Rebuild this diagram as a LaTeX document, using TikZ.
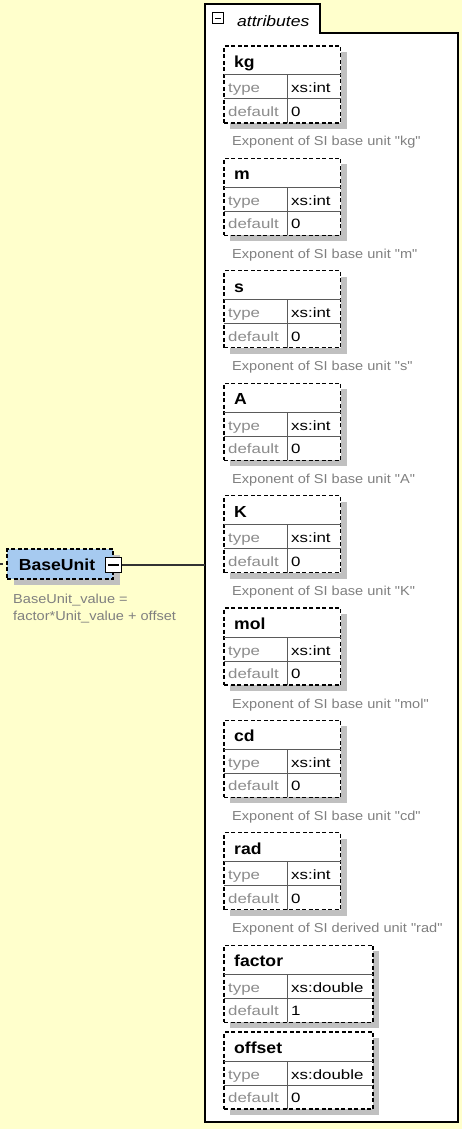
\documentclass[tikz,border=0pt]{standalone}
\usepackage{fontspec}
\setmainfont{Liberation Sans}
\newfontfamily\descfont{Liberation Sans}[FakeStretch=1.12]
\newfontfamily\cellfont{Liberation Sans}[FakeStretch=1.25]
\newfontfamily\headfont{Liberation Sans}[FakeStretch=1.1]
\newfontfamily\tabfont{Liberation Sans}[FakeStretch=1.17]
\usetikzlibrary{calc,shadows}
\definecolor{bgyellow}{RGB}{255,255,204}
\definecolor{shadowgrey}{RGB}{192,192,192}
\definecolor{unitblue}{RGB}{166,202,240}
\definecolor{keygrey}{RGB}{140,140,140}
\definecolor{descgrey}{RGB}{128,128,128}
\definecolor{sepgrey}{RGB}{90,90,90}
\definecolor{connline}{RGB}{51,51,51}
\tikzset{
  dashedborder/.style={draw=black, line width=1.3pt, dash pattern=on 4pt off 2.5pt},
  abox/.style={dashedborder, fill=white, minimum height=77pt, inner sep=0pt, outer sep=0pt,
    drop shadow={shadow xshift=6pt, shadow yshift=-6pt, fill=shadowgrey, opacity=1}},
  ubox/.style={dashedborder, fill=unitblue, inner sep=0pt, outer sep=0pt,
    drop shadow={shadow xshift=7pt, shadow yshift=-6pt, fill=shadowgrey, opacity=1}},
  sepline/.style={draw=sepgrey, line width=1pt},
  celltext/.style={inner sep=0pt, font=\cellfont\fontsize{13.5}{15}\selectfont, text=keygrey},
  valtext/.style={inner sep=0pt, font=\cellfont\fontsize{13.5}{15}\selectfont, text=black},
  headtext/.style={inner sep=0pt, font=\headfont\bfseries\fontsize{16}{18}\selectfont, text=black},
  desctext/.style={inner sep=0pt, font=\descfont\fontsize{13}{15}\selectfont, text=descgrey},
  tabtext/.style={inner sep=0pt, font=\tabfont\itshape\fontsize{15}{17}\selectfont, text=black},
  contline/.style={draw=black, line width=1.5pt},
  conn/.style={draw=connline, line width=1.8pt},
  minusicon/.style={draw=black, fill=white, line width=1.2pt, inner sep=0pt, outer sep=0pt,
    path picture={\draw[line width=1.2pt]
      ([xshift=2.5pt]path picture bounding box.west) --
      ([xshift=-2.5pt]path picture bounding box.east);}},
}
\newcommand\mkattr[6]{%
  \node[abox, minimum width=#3, anchor=north west] (#1) at (224,#2) {};
  \draw[sepline] ($(#1.north west)+(0,29)$) -- ($(#1.north east)+(0,29)$);
  \draw[sepline] ($(#1.north west)+(0,53)$) -- ($(#1.north east)+(0,53)$);
  \draw[sepline] ($(#1.north west)+(63,29)$) -- ($(#1.south west)+(63,0)$);
  \node[headtext, anchor=base west] (#1-t) at ($(#1.north west)+(10,21.5)$) {#4};
  \node[celltext, anchor=base west] (#1-k1) at ($(#1.north west)+(4,47)$) {type};
  \node[valtext, anchor=base west] (#1-v1) at ($(#1.north west)+(67,47)$) {#5};
  \node[celltext, anchor=base west] (#1-k2) at ($(#1.north west)+(4,70.5)$) {default};
  \node[valtext, anchor=base west] (#1-v2) at ($(#1.north west)+(67,70.5)$) {#6};
}
\newcommand\mkdesc[2]{%
  \node[desctext, anchor=base west] (#1-d) at ($(#1.north west)+(8,100)$) {#2};
}
\begin{document}
\begin{tikzpicture}[x=1pt, y=-1pt]
\fill[bgyellow] (0,0) rectangle (462,1129);
\useasboundingbox (0,0) rectangle (462,1129);

% attributes container
\node[anchor=north west, minimum width=253pt, minimum height=1089pt, inner sep=0pt, outer sep=0pt] (attrs) at (205,33) {};
\node[anchor=south west, minimum width=115pt, minimum height=29pt, inner sep=0pt, outer sep=0pt] (tab) at (205,33) {};
\draw[contline, fill=white] (attrs.south west) -- (tab.north west) -- (tab.north east)
  -- (tab.south east) -- (attrs.north east) -- (attrs.south east) -- cycle;
\node[minusicon, minimum size=11pt] (tabmin) at (218,18.4) {};
\node[tabtext, anchor=base west] (tabt) at (237,27) {attributes};

% attribute boxes
\mkattr{kg}{46}{116.5pt}{kg}{xs:int}{0}
\mkdesc{kg}{Exponent of SI base unit "kg"}
\mkattr{m}{158.4}{116.5pt}{m}{xs:int}{0}
\mkdesc{m}{Exponent of SI base unit "m"}
\mkattr{s}{270.8}{116.5pt}{s}{xs:int}{0}
\mkdesc{s}{Exponent of SI base unit "s"}
\mkattr{A}{383.2}{116.5pt}{A}{xs:int}{0}
\mkdesc{A}{Exponent of SI base unit "A"}
\mkattr{K}{495.6}{116.5pt}{K}{xs:int}{0}
\mkdesc{K}{Exponent of SI base unit "K"}
\mkattr{mol}{608}{116.5pt}{mol}{xs:int}{0}
\mkdesc{mol}{Exponent of SI base unit "mol"}
\mkattr{cd}{720.4}{116.5pt}{cd}{xs:int}{0}
\mkdesc{cd}{Exponent of SI base unit "cd"}
\mkattr{rad}{832.8}{116.5pt}{rad}{xs:int}{0}
\mkdesc{rad}{Exponent of SI derived unit "rad"}
\mkattr{factor}{945.2}{149pt}{factor}{xs:double}{1}
\mkattr{offset}{1032}{149pt}{offset}{xs:double}{0}

% BaseUnit element
\coordinate (stubA) at (0,564);
\coordinate (stubB) at (3,564);
\draw[conn] (stubA) -- (stubB);
\node[ubox, minimum width=106pt, minimum height=30pt] (base) at (60,564) {};
\node[headtext, anchor=base] (base-t) at (57,570) {BaseUnit};
\node[minusicon, minimum width=16pt, minimum height=15.5pt] (bmin) at (113.7,565) {};
\draw[conn] (bmin.east) -- (bmin.east -| attrs.west);
\node[desctext, anchor=base west] (bd1) at (13,603) {BaseUnit\_value =};
\node[desctext, anchor=base west] (bd2) at (13,620) {factor*Unit\_value + offset};
\end{tikzpicture}
\end{document}
